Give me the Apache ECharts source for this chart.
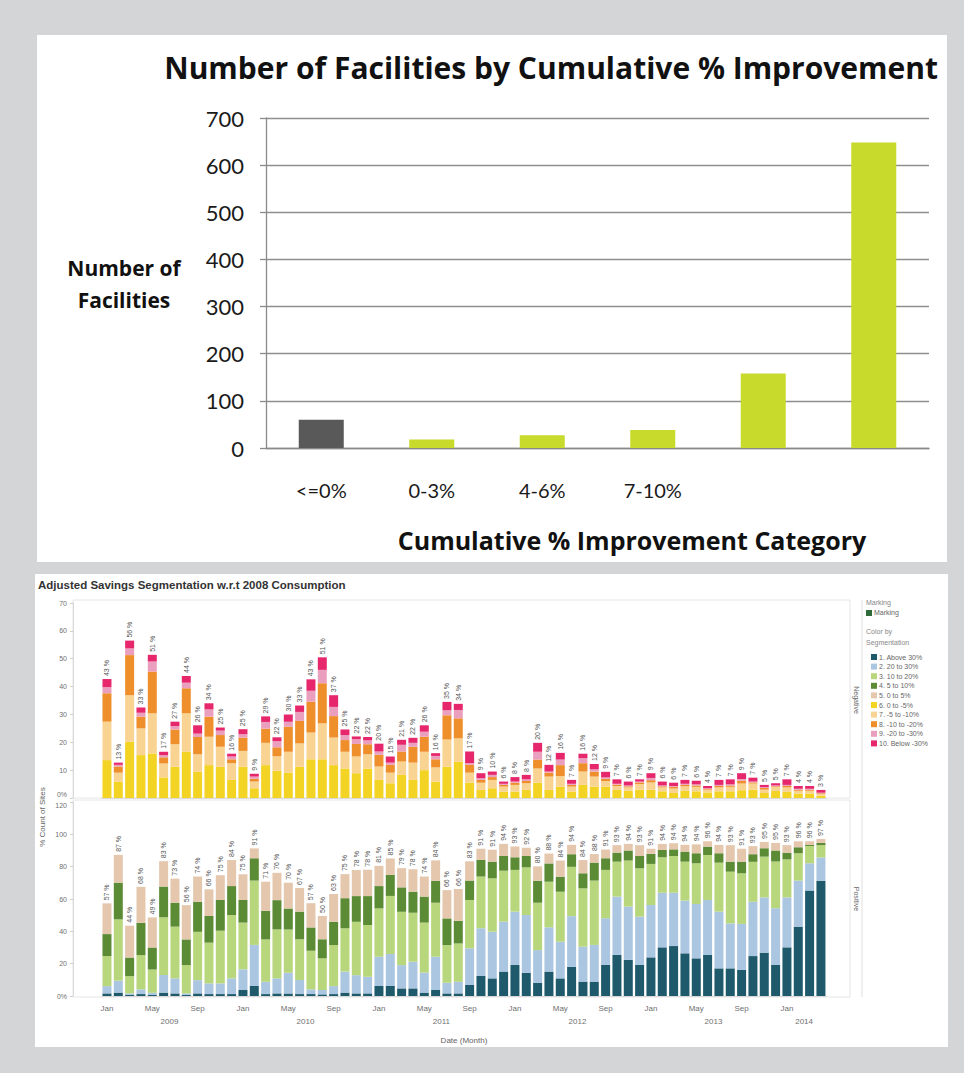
<!DOCTYPE html>
<html>
<head>
<meta charset="utf-8">
<script src="https://cdn.jsdelivr.net/npm/echarts@6/dist/echarts.min.js"></script>
<style>
  body { margin: 0; background: #d4d5d7; width: 964px; height: 1073px; position: relative; overflow: hidden; }
  .panel { position: absolute; background: #fff; }
  #top-chart { left: 37px; top: 35px; width: 910px; height: 527px; }
  #bottom-chart { left: 35px; top: 574px; width: 913px; height: 473px; }
</style>
</head>
<body>
<div class="panel" id="top-chart"></div>
<div class="panel" id="bottom-chart"></div>
<script>
// ---- top chart data ----
const improvementCategories = ['<=0%', '0-3%', '4-6%', '7-10%', '', ''];
const facilityCounts = [60, 18, 27, 38, 158, 648];

// ---- bottom chart data (Jan 2009 .. Apr 2014, one value per month) ----
const monthNames = ['Jan', 'Feb', 'Mar', 'Apr', 'May', 'Jun', 'Jul', 'Aug', 'Sep', 'Oct', 'Nov', 'Dec'];
const years = ['2009', '2010', '2011', '2012', '2013', '2014'];
const monthCount = 64;
// index of the month a year label is drawn under (shifted half a month left)
const yearLabelIdx = [6, 18, 30, 42, 54, 62];

const segNames = ['1. Above 30%', '2. 20 to 30%', '3. 10 to 20%', '4. 5 to 10%', '5. 0 to 5%',
  '6. 0 to -5%', '7. -5 to -10%', '8. -10 to -20%', '9. -20 to -30%', '10. Below -30%'];
const segColors = ['#1e5a6c', '#abc6e1', '#b8d67c', '#5b8b35', '#e4c7ad',
  '#f3d324', '#f9d391', '#ef8f2b', '#eb9fbf', '#e6276c'];

// negative pane
const negZeroToM5 = [13.6, 5.9, 20.2, 15.4, 16.0, 7.4, 11.2, 16.6, 9.4, 11.8, 11.2, 6.5, 11.2, 3.5, 11.8, 9.8,
  9.1, 11.2, 13.9, 13.9, 11.8, 10.6, 8.9, 10.6, 6.5, 5.3, 8.3, 6.5, 10.0, 5.9, 11.2, 13.0,
  5.5, 2.9, 3.5, 2.3, 2.3, 2.9, 5.5, 2.9, 4.1, 2.3, 4.7, 4.1, 4.1, 2.9, 2.6, 3.0,
  3.0, 2.4, 1.8, 2.6, 2.4, 2.0, 2.4, 2.4, 2.8, 3.0, 1.8, 2.5, 2.2, 1.6, 1.6, 0.8];
const negM5ToM10 = [13.8, 3.2, 16.7, 9.6, 14.4, 5.0, 8.1, 13.8, 6.3, 10.2, 7.2, 6.0, 5.7, 2.4, 8.0, 5.2,
  7.5, 8.4, 9.6, 12.9, 9.9, 6.0, 6.0, 5.1, 4.8, 3.8, 4.8, 6.2, 6.6, 5.1, 9.8, 8.4,
  3.6, 2.6, 3.0, 1.8, 2.4, 2.4, 5.1, 4.8, 3.8, 1.8, 4.8, 3.6, 2.0, 1.4, 1.2, 2.0,
  2.6, 1.4, 1.6, 1.6, 1.6, 1.0, 1.4, 1.6, 2.4, 2.2, 1.2, 1.4, 1.6, 1.0, 1.0, 0.6];
const negM10ToM20 = [10.2, 2.2, 14.4, 4.2, 15.0, 2.2, 5.3, 9.0, 6.2, 7.2, 4.2, 1.4, 4.8, 1.0, 5.1, 3.2,
  9.0, 8.1, 11.1, 14.4, 7.7, 4.2, 4.5, 3.6, 4.2, 2.8, 3.6, 5.7, 5.4, 2.9, 8.7, 7.2,
  2.8, 1.0, 1.0, 0.6, 0.8, 0.8, 3.2, 1.4, 3.9, 0.6, 3.0, 1.8, 0.8, 0.5, 0.4, 0.6,
  0.8, 0.4, 0.6, 0.5, 0.5, 0.3, 0.5, 0.5, 1.0, 0.4, 0.6, 0.3, 0.5, 0.4, 0.4, 0.3];
const negM20ToM30 = [2.2, 0.6, 2.4, 1.4, 3.6, 0.8, 1.2, 2.0, 1.2, 2.6, 1.6, 1.0, 1.2, 0.8, 2.4, 2.2,
  1.8, 3.2, 3.9, 4.8, 3.3, 1.8, 1.7, 1.4, 1.2, 0.8, 2.4, 1.4, 1.8, 1.2, 1.8, 3.0,
  0.6, 0.6, 0.8, 0.4, 0.4, 0.6, 2.8, 0.4, 2.0, 0.4, 1.8, 0.8, 0.5, 0.3, 0.3, 0.3,
  0.8, 0.3, 0.3, 0.4, 0.4, 0.2, 0.4, 0.4, 0.6, 0.3, 0.3, 0.3, 0.4, 0.3, 0.3, 0.2];
const negBelowM30 = [2.9, 0.8, 2.8, 1.9, 2.4, 1.2, 1.6, 2.4, 3.0, 2.2, 1.1, 1.0, 1.8, 1.0, 2.0, 1.4,
  2.6, 2.3, 4.1, 4.5, 4.2, 2.0, 1.0, 1.2, 2.8, 2.2, 1.8, 1.8, 2.3, 1.0, 3.0, 2.2,
  4.2, 1.8, 1.2, 0.8, 1.6, 1.6, 3.2, 2.4, 2.4, 1.4, 1.6, 1.9, 2.0, 1.6, 1.4, 0.8,
  1.7, 1.4, 1.2, 1.4, 1.3, 0.8, 1.8, 1.8, 2.1, 1.4, 0.8, 0.8, 2.0, 1.0, 1.0, 1.0];

// positive pane
const posAbove30 = [1.6, 2.1, 0.8, 1.2, 0.8, 2.1, 1.6, 0.6, 1.6, 1.2, 1.2, 1.2, 3.7, 6.2, 1.2, 1.6,
  1.6, 1.2, 1.2, 1.0, 1.2, 2.1, 1.6, 1.6, 6.2, 6.2, 4.7, 4.7, 2.1, 3.7, 1.6, 1.6,
  6.8, 12.4, 10.9, 15.1, 19.2, 14.4, 8.2, 15.1, 10.9, 18.1, 8.9, 8.9, 19.2, 25.4, 22.3, 19.2,
  23.9, 30.1, 30.9, 26.4, 23.3, 25.4, 17.1, 17.1, 16.1, 24.7, 26.8, 19.2, 30.1, 42.9, 65.2, 71.3];
const pos20To30 = [4.5, 7.4, 0.8, 2.9, 1.2, 10.9, 9.3, 1.0, 8.2, 6.6, 6.6, 9.7, 12.8, 25.4, 7.6, 9.3,
  12.8, 8.7, 2.9, 2.7, 4.9, 13.0, 11.3, 10.3, 18.1, 19.8, 14.4, 16.5, 12.4, 20.6, 6.6, 7.2,
  22.7, 29.5, 28.9, 30.9, 33.0, 35.7, 20.2, 27.4, 22.7, 31.3, 21.6, 22.7, 28.9, 36.1, 33.0, 29.9,
  32.4, 33.8, 33.0, 32.6, 33.6, 34.0, 35.1, 27.8, 28.5, 33.6, 34.2, 35.1, 30.9, 28.5, 16.9, 14.4];
const pos10To20 = [18.6, 37.9, 10.7, 21.2, 14.4, 35.7, 32.0, 17.5, 29.9, 25.2, 32.6, 39.2, 28.9, 39.8, 26.2, 30.3,
  26.8, 25.2, 23.9, 19.6, 25.4, 26.8, 33.0, 32.0, 29.9, 35.9, 33.0, 30.3, 30.9, 33.4, 23.3, 23.7,
  29.9, 32.0, 33.0, 31.5, 25.8, 29.5, 29.3, 28.2, 30.9, 30.5, 36.1, 39.8, 29.9, 21.6, 28.5, 29.9,
  25.4, 21.9, 22.7, 24.1, 25.2, 27.8, 30.3, 32.0, 31.3, 24.7, 25.2, 28.9, 23.5, 16.9, 10.7, 7.6];
const pos5To10 = [13.6, 22.7, 11.5, 20.0, 13.6, 19.0, 14.8, 15.9, 18.6, 16.5, 19.0, 17.9, 14.0, 13.8, 17.7, 18.1,
  13.0, 17.1, 14.4, 11.8, 14.4, 18.6, 15.9, 17.9, 13.8, 13.0, 15.1, 13.0, 16.1, 13.6, 16.5, 14.0,
  12.0, 10.3, 10.3, 9.1, 7.8, 7.0, 13.6, 11.3, 9.3, 7.8, 9.3, 11.1, 7.2, 5.6, 6.2, 7.6,
  6.2, 4.5, 4.1, 6.2, 6.2, 5.2, 5.8, 6.2, 7.2, 4.7, 5.2, 6.8, 4.1, 3.7, 0.6, 1.4];
const pos0To5 = [19.0, 17.2, 19.7, 22.2, 18.6, 15.7, 14.9, 21.2, 15.6, 16.5, 15.3, 16.1, 15.9, 6.1, 18.0, 16.9,
  15.8, 14.6, 15.0, 14.4, 17.2, 14.9, 16.1, 16.3, 12.5, 10.2, 11.9, 13.9, 12.4, 12.6, 17.5, 19.7,
  11.9, 6.9, 7.4, 7.5, 6.7, 5.1, 8.9, 6.1, 10.0, 5.8, 8.2, 5.3, 5.4, 4.6, 4.1, 6.7,
  3.2, 3.8, 3.8, 4.2, 5.5, 3.3, 5.2, 10.2, 8.0, 5.0, 3.9, 4.7, 4.7, 3.7, 2.3, 2.4];

const posSeries = [posAbove30, pos20To30, pos10To20, pos5To10, pos0To5];
const negSeries = [negZeroToM5, negM5ToM10, negM10ToM20, negM20ToM30, negBelowM30];

const months = [];
for (let i = 0; i < monthCount; i++) {
  months.push(monthNames[i % 12] + ' ' + years[Math.floor(i / 12)]);
}

function initTopChart() {
  const chart = echarts.init(document.getElementById('top-chart'), null, {renderer: 'svg'});
  const font = 'Open Sans';
  chart.setOption({
    animation: false,
    textStyle: {fontFamily: font},
    title: {
      text: 'Number of Facilities by Cumulative % Improvement',
      right: 9,
      top: 17,
      padding: 0,
      textStyle: {fontFamily: font, fontWeight: 'bold', fontSize: 30, color: '#111'}
    },
    grid: {left: 229, top: 83, width: 663, height: 330, outerBoundsMode: 'none'},
    xAxis: {
      type: 'category',
      data: improvementCategories,
      axisLine: {lineStyle: {color: '#8a8a8a', width: 1.3}},
      axisTick: {length: 9, lineStyle: {color: '#8a8a8a', width: 1.3}},
      axisLabel: {margin: 32, fontSize: 20, color: '#1a1a1a', fontFamily: 'Lato', interval: 0}
    },
    yAxis: {
      type: 'value',
      min: 0,
      max: 700,
      interval: 100,
      axisLine: {show: true, lineStyle: {color: '#8a8a8a', width: 1.3}},
      axisTick: {show: true, length: 6, lineStyle: {color: '#8a8a8a', width: 1.3}},
      splitLine: {lineStyle: {color: '#8f8f8f', width: 1.3}},
      axisLabel: {margin: 22, fontSize: 22, color: '#1a1a1a', fontFamily: 'Lato'}
    },
    graphic: [
      {
        type: 'text', x: 87, y: 249,
        style: {
          text: 'Number of\nFacilities', align: 'center', verticalAlign: 'middle', fill: '#111',
          font: 'bold 21px "Open Sans"', lineHeight: 32
        }
      },
      {
        type: 'text', x: 595, y: 505,
        style: {
          text: 'Cumulative % Improvement Category', align: 'center', verticalAlign: 'middle',
          fill: '#111', font: 'bold 25px "Open Sans"'
        }
      }
    ],
    series: [{
      type: 'bar',
      barWidth: 45,
      data: facilityCounts.map((v, i) => ({
        value: v,
        itemStyle: {color: i === 0 ? '#595959' : '#c8da2b'}
      }))
    }]
  });
}

function initBottomChart() {
  const chart = echarts.init(document.getElementById('bottom-chart'), null, {renderer: 'svg'});
  const paneLeft = 38;     // pane border (y axis line)
  const paneRight = 815;
  const gridLeft = 66.3;   // first month band
  const gridWidth = 725.3;
  const labelColor = '#6f6f6f';
  const font = 'Liberation Sans';

  const sumAt = (arrs, i) => arrs.reduce((s, a) => s + a[i], 0);

  const baseX = (gridIndex) => ({
    type: 'category', gridIndex, data: months,
    axisLine: {show: true, lineStyle: {color: '#d9d9d9'}},
    axisTick: {show: false},
    splitLine: {show: false},
    axisLabel: {show: false}
  });

  const baseY = (gridIndex, max, interval, extraLabel) => ({
    type: 'value', gridIndex, min: 0, max, interval,
    offset: gridLeft - paneLeft,
    axisLine: {show: true, lineStyle: {color: '#d9d9d9'}},
    axisTick: {show: true, length: 3, lineStyle: {color: '#cfcfcf'}},
    splitLine: {show: false},
    axisLabel: Object.assign({
      fontSize: 7, color: labelColor, margin: 6, fontFamily: font,
      formatter: v => v === 0 ? '0%' : String(v)
    }, extraLabel)
  });

  const totalLabel = (arrs) => ({
    show: true,
    position: 'top',
    rotate: 90,
    align: 'left',
    verticalAlign: 'middle',
    distance: 3,
    fontSize: 7,
    fontFamily: font,
    color: '#555',
    formatter: p => Math.round(sumAt(arrs, p.dataIndex)) + ' %'
  });

  const series = [];
  negSeries.forEach((arr, k) => {
    series.push({
      name: segNames[5 + k], type: 'bar', stack: 'neg', xAxisIndex: 0, yAxisIndex: 0,
      barWidth: 9,
      itemStyle: {color: segColors[5 + k]},
      label: k === negSeries.length - 1 ? totalLabel(negSeries) : {show: false},
      data: arr
    });
  });
  posSeries.forEach((arr, k) => {
    series.push({
      name: segNames[k], type: 'bar', stack: 'pos', xAxisIndex: 1, yAxisIndex: 1,
      barWidth: 9,
      itemStyle: {color: segColors[k]},
      label: k === posSeries.length - 1 ? totalLabel(posSeries) : {show: false},
      data: arr
    });
  });

  const paneBorder = (y, h) => ({
    type: 'rect', z: -1, silent: true,
    shape: {x: paneLeft, y, width: paneRight - paneLeft, height: h},
    style: {fill: 'none', stroke: '#e6e6e6'}
  });

  chart.setOption({
    animation: false,
    textStyle: {fontFamily: font},
    title: {
      text: 'Adjusted Savings Segmentation w.r.t 2008 Consumption',
      left: 3, top: 5, padding: 0,
      textStyle: {fontFamily: font, fontWeight: 'bold', fontSize: 11.5, color: '#333'}
    },
    grid: [
      {left: gridLeft, top: 29, width: gridWidth, height: 195, outerBoundsMode: 'none'},
      {left: gridLeft, top: 228, width: gridWidth, height: 194, outerBoundsMode: 'none'}
    ],
    xAxis: [
      baseX(0),
      Object.assign(baseX(1), {
        axisLabel: {
          show: true, interval: 3, fontSize: 8, color: labelColor, margin: 8, fontFamily: font,
          formatter: v => v.split(' ')[0]
        },
        name: 'Date (Month)', nameLocation: 'middle', nameGap: 40,
        nameTextStyle: {fontSize: 8, color: '#666', fontFamily: font}
      }),
      Object.assign(baseX(1), {
        position: 'bottom', offset: 13,
        axisLine: {show: false},
        axisLabel: {
          show: true, interval: 0, fontSize: 8, color: labelColor, margin: 8, fontFamily: font,
          padding: [0, 11, 0, 0],
          formatter: (v, i) => yearLabelIdx.includes(i) ? v.split(' ')[1] : ''
        }
      })
    ],
    yAxis: [
      baseY(0, 70, 10, {verticalAlignMinLabel: 'bottom'}),
      baseY(1, 120, 20, {verticalAlignMaxLabel: 'top'})
    ],
    legend: {
      data: segNames,
      orient: 'vertical',
      left: 831, top: 74,
      itemWidth: 6, itemHeight: 6, itemGap: 1.6,
      icon: 'rect',
      selectedMode: false,
      textStyle: {fontSize: 7, color: '#666', lineHeight: 8, fontFamily: font, padding: [0, 0, 0, -3]}
    },
    graphic: [
      paneBorder(26, 198),
      paneBorder(226, 197),
      {type: 'text', x: 7, y: 243, rotation: Math.PI / 2,
        style: {text: '% Count of Sites', fill: '#666', font: '8px "Liberation Sans"', align: 'center', verticalAlign: 'middle'}},
      {type: 'line', shape: {x1: 827, y1: 26, x2: 827, y2: 423}, style: {stroke: '#e0e0e0'}},
      {type: 'text', x: 821, y: 126, rotation: -Math.PI / 2,
        style: {text: 'Negative', fill: '#666', font: '7px "Liberation Sans"', align: 'center', verticalAlign: 'middle'}},
      {type: 'text', x: 821, y: 325, rotation: -Math.PI / 2,
        style: {text: 'Positive', fill: '#666', font: '7px "Liberation Sans"', align: 'center', verticalAlign: 'middle'}},
      {type: 'text', x: 831, y: 25, style: {text: 'Marking', fill: '#888', font: '7px "Liberation Sans"'}},
      {type: 'rect', shape: {x: 831, y: 36, width: 6, height: 6}, style: {fill: '#2e6b3a'}},
      {type: 'text', x: 839, y: 35, style: {text: 'Marking', fill: '#666', font: '7px "Liberation Sans"'}},
      {type: 'text', x: 831, y: 52, style: {text: 'Color by\nSegmentation', fill: '#888', font: '7px "Liberation Sans"', lineHeight: 11}}
    ],
    series
  });
}

initTopChart();
initBottomChart();
</script>
</body>
</html>
